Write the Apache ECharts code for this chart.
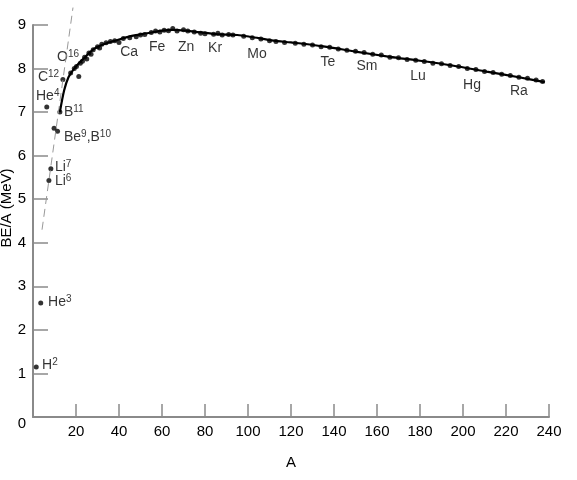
<!DOCTYPE html>
<html>
<head>
<meta charset="utf-8">
<script src="https://cdn.jsdelivr.net/npm/echarts@6/dist/echarts.min.js"></script>
<style>
  html, body { margin: 0; padding: 0; background: #fff; }
  #chart { width: 577px; height: 480px; }
</style>
</head>
<body>
<div id="chart"></div>
<script>
// 数据
var xTicks = [0, 20, 40, 60, 80, 100, 120, 140, 160, 180, 200, 220, 240];
var yTicks = [0, 1, 2, 3, 4, 5, 6, 7, 8, 9];

// light nuclei (A as drawn, BE/A)
var lightPoints = [
  [1.5, 1.15], [3.6, 2.62], [6.4, 7.12], [7.4, 5.43], [8.3, 5.7],
  [9.8, 6.63], [11.4, 6.56], [12.5, 7.0], [13.9, 7.75], [19.2, 8.0], [21.3, 7.82]
];

// heavier nuclei along the curve
var curvePoints = [
  [17.5, 7.9], [20.2, 8.05], [22, 8.12], [23, 8.17], [24, 8.26], [25, 8.22],
  [26, 8.36], [27, 8.33], [28, 8.43], [30, 8.5], [31, 8.47], [32, 8.56],
  [34, 8.59], [36, 8.62], [38, 8.64], [40, 8.6], [42, 8.69], [45, 8.71],
  [48, 8.73], [50, 8.77], [52, 8.78], [55, 8.83], [57, 8.86], [59, 8.84],
  [61, 8.88], [63, 8.87], [65, 8.92], [67, 8.86], [70, 8.89], [72, 8.86],
  [75, 8.84], [78, 8.81], [80, 8.8], [84, 8.79], [86, 8.81], [88, 8.77],
  [91, 8.78], [93, 8.77], [98, 8.74], [102, 8.71], [106, 8.68], [110, 8.64],
  [113, 8.62], [117, 8.6], [122, 8.58], [126, 8.56], [130, 8.54], [134, 8.5],
  [138, 8.49], [142, 8.45], [146, 8.42], [150, 8.4], [154, 8.37], [158, 8.33],
  [162, 8.31], [166, 8.26], [170, 8.25], [174, 8.21], [178, 8.19], [182, 8.16],
  [186, 8.12], [190, 8.11], [194, 8.07], [198, 8.05], [202, 8.0], [206, 7.98],
  [210, 7.93], [214, 7.91], [218, 7.87], [222, 7.84], [226, 7.8], [230, 7.78],
  [234, 7.74], [237, 7.7]
];

// fitted curve
var fitCurve = [
  [12.5, 7.0], [14.5, 7.5], [16.5, 7.8], [19.2, 8.0], [21.9, 8.15], [24.2, 8.26],
  [26.5, 8.38], [29.6, 8.49], [33.5, 8.57], [38.9, 8.65], [45, 8.74], [53, 8.81],
  [60, 8.87], [65, 8.89], [73, 8.86], [85, 8.79], [95, 8.77], [101, 8.73],
  [112, 8.64], [120, 8.6], [135, 8.51], [150, 8.39], [166, 8.27], [180, 8.18],
  [195, 8.07], [211, 7.93], [226, 7.8], [238, 7.69]
];

// dashed guide line
var guideLine = [[4.2, 4.3], [18.6, 9.4]];

// isotope labels: text parts, A, BE/A of label anchor
var isoNames = [['H', '2'], ['He', '3'], ['He', '4'], ['Li', '6'], ['Li', '7'],
  ['Be', '9', ',B', '10'], ['B', '11'], ['C', '12'], ['O', '16']];
var isoX = [4.2, 7.0, 1.4, 10.2, 10.2, 14.4, 14.4, 2.3, 11.2];
var isoY = [1.19, 2.64, 7.36, 5.42, 5.73, 6.42, 7.0, 7.8, 8.26];

// element labels along the curve
var elemNames = ['Ca', 'Fe', 'Zn', 'Kr', 'Mo', 'Te', 'Sm', 'Lu', 'Hg', 'Ra'];
var elemX = [44.7, 57.7, 71.2, 84.7, 104.2, 137.2, 155.3, 179.1, 204.2, 226];
var elemY = [8.37, 8.49, 8.49, 8.46, 8.33, 8.14, 8.05, 7.82, 7.61, 7.48];

var font = 'Arial, "Liberation Sans", sans-serif';
var axisGrey = '#8a8a8a';

var isoData = isoNames.map(function (parts, i) {
  var txt = '';
  parts.forEach(function (p, j) {
    txt += (j % 2 === 0 ? '{m|' : '{s|') + p + '}';
  });
  return { value: [isoX[i], isoY[i]], name: txt };
});
var elemData = elemNames.map(function (n, i) {
  return { value: [elemX[i], elemY[i]], name: n };
});

var chart = echarts.init(document.getElementById('chart'));
var option = {
  backgroundColor: '#fff',
  animation: false,
  grid: { left: 33, right: 28, top: 25, bottom: 63, containLabel: false, outerBoundsMode: 'none' },
  xAxis: {
    type: 'value',
    min: xTicks[0],
    max: xTicks[xTicks.length - 1],
    interval: 20,
    name: 'A',
    nameLocation: 'middle',
    nameGap: 38,
    nameMoveOverlap: false,
    nameTextStyle: { fontFamily: font, fontSize: 15, color: '#000' },
    axisLine: { lineStyle: { color: axisGrey, width: 2 } },
    axisTick: { inside: true, length: 13, lineStyle: { color: axisGrey, width: 1.5 } },
    axisLabel: {
      fontFamily: font, fontSize: 15, color: '#000', margin: 7,
      formatter: function (v) { return v === 0 ? '' : String(v); }
    },
    splitLine: { show: false }
  },
  yAxis: {
    type: 'value',
    min: yTicks[0],
    max: yTicks[yTicks.length - 1],
    interval: 1,
    name: 'BE/A (MeV)',
    nameLocation: 'middle',
    nameGap: 19,
    nameMoveOverlap: false,
    nameRotate: 90,
    nameTextStyle: { fontFamily: font, fontSize: 15, lineHeight: 15, color: '#000', padding: [0, 0, 0, 26] },
    axisLine: { show: true, lineStyle: { color: axisGrey, width: 2 } },
    axisTick: { show: true, inside: true, length: 15, lineStyle: { color: axisGrey, width: 1.5 } },
    axisLabel: {
      fontFamily: font, fontSize: 15, color: '#000', margin: 7,
      formatter: function (v) { return v === 0 ? '{z|0}' : String(v); },
      rich: { z: { fontFamily: font, fontSize: 15, color: '#000', padding: [14, 0, 0, 0] } }
    },
    splitLine: { show: false }
  },
  series: [
    {
      type: 'line',
      data: guideLine,
      clip: false,
      symbol: 'none',
      lineStyle: { color: '#999', width: 1, type: [8, 5] },
      silent: true
    },
    {
      type: 'line',
      data: fitCurve,
      smooth: 0.3,
      symbol: 'none',
      lineStyle: { color: '#000', width: 2.2 },
      silent: true
    },
    {
      type: 'scatter',
      data: curvePoints,
      symbolSize: 5,
      itemStyle: { color: '#000' }
    },
    {
      type: 'scatter',
      data: lightPoints,
      symbolSize: 5,
      itemStyle: { color: '#000' }
    },
    {
      type: 'scatter',
      data: isoData,
      symbolSize: 0,
      label: {
        show: true,
        position: 'right',
        distance: 0,
        formatter: function (p) { return p.name; },
        rich: {
          m: { fontFamily: font, fontSize: 14, color: '#000', lineHeight: 16 },
          s: { fontFamily: font, fontSize: 10, color: '#000', verticalAlign: 'top', lineHeight: 9 }
        }
      }
    },
    {
      type: 'scatter',
      data: elemData,
      symbolSize: 0,
      label: {
        show: true,
        position: 'inside',
        formatter: function (p) { return p.name; },
        fontFamily: font,
        fontSize: 14,
        color: '#000'
      }
    }
  ]
};
chart.setOption(option);
</script>
</body>
</html>
